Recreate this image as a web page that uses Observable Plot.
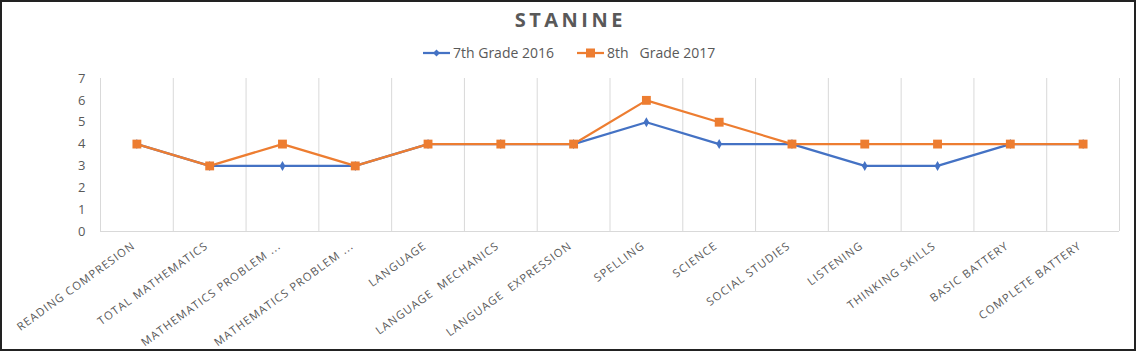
<!DOCTYPE html>
<html><head><meta charset="utf-8">
<script src="https://cdn.jsdelivr.net/npm/d3@7"></script>
<script src="https://cdn.jsdelivr.net/npm/@observablehq/plot@0.6"></script>
<style>
body{margin:0;background:#fff;}
#wrap{position:relative;width:1137px;height:352px;font-family:"Open Sans",sans-serif;color:#595959;overflow:hidden;}
#frame{position:absolute;left:0;top:0;width:1136px;height:351px;border:2px solid #222;box-sizing:border-box;pointer-events:none;}
#title{position:absolute;left:0;width:1137px;top:10px;text-align:center;font-weight:700;font-size:20px;line-height:1;letter-spacing:3.5px;text-indent:3.5px;}
.leg{position:absolute;top:45px;font-size:14px;line-height:16px;display:flex;align-items:center;white-space:pre;}
.leg svg{margin-right:3px;}
#chart{position:absolute;left:0;top:0;}
#chart [aria-label="x-axis tick label"] text{letter-spacing:1.1px;}
</style></head>
<body>
<div id="wrap">
  <div id="chart"></div>
  <div id="title">STANINE</div>
  <div id="leg1" class="leg"></div>
  <div id="leg2" class="leg"></div>
  <div id="frame"></div>
</div>
<script>
const categories = ["READING COMPRESION","TOTAL MATHEMATICS","MATHEMATICS PROBLEM ...","MATHEMATICS PROBLEM ...","LANGUAGE","LANGUAGE  MECHANICS","LANGUAGE  EXPRESSION","SPELLING","SCIENCE","SOCIAL STUDIES","LISTENING","THINKING SKILLS","BASIC BATTERY","COMPLETE BATTERY"];
const grade7_2016 = [4,3,3,3,4,4,4,5,4,4,3,3,4,4];
const grade8_2017 = [4,3,4,3,4,4,4,6,5,4,4,4,4,4];
const yTicks = [0,1,2,3,4,5,6,7];
const seriesNames = ["7th Grade 2016","8th   Grade 2017"];
const colors = ["#4472C4","#ED7D31"];

const rows7 = grade7_2016.map((v,i)=>({pos:i+0.5, value:v}));
const rows8 = grade8_2017.map((v,i)=>({pos:i+0.5, value:v}));

const chart = Plot.plot({
  width:1137, height:352,
  marginTop:78, marginBottom:121, marginLeft:100, marginRight:18,
  style:{color:"#595959", fontFamily:"Open Sans, sans-serif", background:"transparent", overflow:"visible"},
  x:{domain:[0,categories.length], label:null},
  y:{domain:[0,7], label:null},
  marks:[
    Plot.ruleX(d3.range(categories.length+1), {stroke:"#d9d9d9", strokeWidth:1}),
    Plot.ruleY([0], {stroke:"#d9d9d9", strokeWidth:1}),
    Plot.axisY({ticks:yTicks, tickSize:0, tickPadding:15, fontSize:13, tickFormat:d=>String(d), label:null}),
    Plot.axisX(categories.map((c,i)=>i+0.5), {tickFormat:d=>categories[Math.floor(d)], tickRotate:-36, tickSize:0, tickPadding:13, dx:-3, fontSize:11.2, label:null}),
    Plot.line(rows7, {x:"pos", y:"value", stroke:colors[0], strokeWidth:2.25}),
    Plot.dot(rows7, {x:"pos", y:"value", symbol:"diamond", r:3, fill:colors[0], stroke:"none"}),
    Plot.line(rows8, {x:"pos", y:"value", stroke:colors[1], strokeWidth:2.25}),
    Plot.dot(rows8, {x:"pos", y:"value", symbol:"square", r:5, fill:colors[1], stroke:"none"})
  ]
});
document.getElementById("chart").appendChild(chart);

function swatch(color, kind){
  const s = kind==="diamond"
    ? `<path d="M13.5 4.5 L17 8 L13.5 11.5 L10 8 Z" fill="${color}"/>`
    : `<rect x="9" y="3.5" width="9" height="9" fill="${color}"/>`;
  return `<svg width="27" height="16"><line x1="0" x2="27" y1="8" y2="8" stroke="${color}" stroke-width="2.25"/>${s}</svg>`;
}
const l1 = document.getElementById("leg1");
l1.style.left = "423px";
l1.innerHTML = swatch(colors[0],"diamond") + `<span>${seriesNames[0]}</span>`;
const l2 = document.getElementById("leg2");
l2.style.left = "577px";
l2.innerHTML = swatch(colors[1],"square") + `<span>${seriesNames[1]}</span>`;
</script>
</body></html>
